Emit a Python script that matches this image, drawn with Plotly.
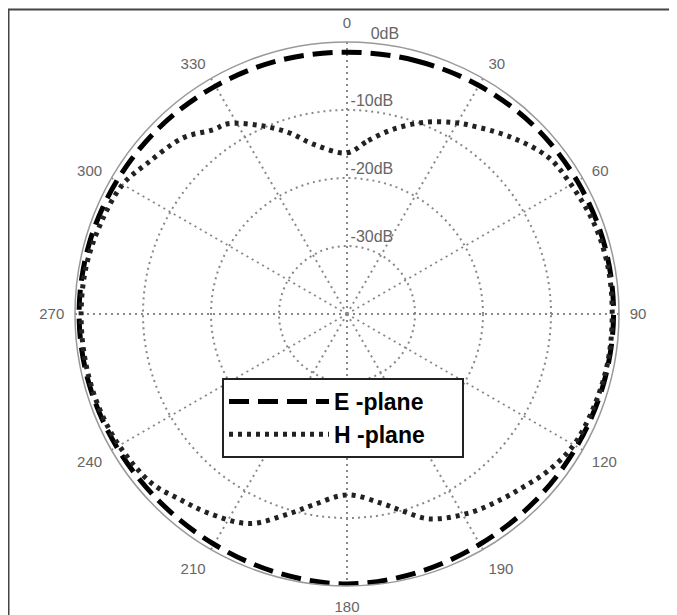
import plotly.graph_objects as go

# ---- data (degrees clockwise from top, dB) ----
e_theta = [0, 15, 30, 45, 60, 75, 90, 105, 120, 135, 150, 165, 180,
           195, 210, 225, 240, 255, 270, 285, 300, 315, 330, 345, 360]
e_db = [-1.5, -1.4, -1.2, -1.0, -0.9, -0.8, -0.8, -0.9, -1.0, -1.0, -0.9, -0.6, -0.3,
        -0.6, -0.9, -1.0, -0.9, -0.7, -0.6, -0.7, -0.9, -1.1, -1.3, -1.4, -1.5]

h_theta = [0, 7, 14, 22, 29, 33, 43, 52, 59, 70, 80, 90, 100, 110, 120, 128, 134,
           140, 148, 158, 164, 170, 180, 190, 196, 205, 215, 222, 229, 240, 250,
           260, 270, 280, 290, 300, 307, 317, 324, 328, 335, 342, 349, 360]
h_db = [-16.3, -14.3, -12.0, -9.6, -7.8, -6.9, -4.5, -2.5, -2.0, -1.3, -1.0, -1.0,
        -1.0, -1.2, -1.5, -2.5, -3.6, -4.5, -5.6, -7.5, -9.8, -11.8, -13.4, -11.5,
        -9.5, -6.0, -4.3, -3.3, -2.0, -1.3, -1.0, -0.9, -0.9, -1.0, -1.4, -1.9,
        -3.2, -4.6, -6.5, -7.0, -9.4, -11.9, -14.6, -16.3]

angle_ticks = [0, 30, 60, 90, 120, 150, 180, 210, 240, 270, 300, 330]
angle_labels = ["0", "30", "60", "90", "120", "190", "180", "210", "240", "270", "300", "330"]
radial_ticks = [0, -10, -20, -30]
radial_labels = ["0dB", "-10dB", "-20dB", "-30dB"]

# styling: angle (deg) of the spoke on which each radial label sits
label_theta = [5, 1, 1.5, 3]

NB = "\u00a0"
fig = go.Figure()
fig.add_trace(go.Scatterpolar(
    r=e_db, theta=e_theta, mode="lines",
    name="<b>E -plane</b>" + NB * 5,
    line=dict(color="black", width=5, dash="20px,9px", shape="spline")))
fig.add_trace(go.Scatterpolar(
    r=h_db, theta=h_theta, mode="lines",
    name="<b>H -plane</b>" + NB * 5,
    line=dict(color="#222", width=5, dash="4px,5px", shape="spline")))
# radial tick labels, placed above-right of each ring
fig.add_trace(go.Scatterpolar(
    r=radial_ticks, theta=label_theta, mode="text",
    text=radial_labels, textposition="top right",
    textfont=dict(size=16, color="#666"),
    showlegend=False, hoverinfo="skip"))

# page has an 8px body margin; all positions below are page pixels minus OFF
OFF = 8
W, H = 677 - OFF, 615 - OFF
cx, cy, R = 347 - OFF, 314 - OFF, 272
fig.update_layout(
    width=W, height=H,
    margin=dict(l=0, r=0, t=0, b=0),
    paper_bgcolor="white", plot_bgcolor="white",
    font=dict(family="Liberation Sans, Arial, sans-serif"),
    polar=dict(
        domain=dict(x=[(cx - R) / W, (cx + R) / W],
                    y=[(H - cy - R) / H, (H - cy + R) / H]),
        bgcolor="white",
        angularaxis=dict(
            rotation=90, direction="clockwise",
            tickmode="array", tickvals=angle_ticks, ticktext=angle_labels,
            ticks="outside", ticklen=7, tickcolor="rgba(0,0,0,0)",
            showline=True, linecolor="#999", linewidth=1.5,
            gridcolor="#888", griddash="2px,4px", gridwidth=1.5,
            tickfont=dict(size=15, color="#666")),
        radialaxis=dict(
            range=[-40, 0], angle=90,
            tickmode="array", tickvals=radial_ticks, showticklabels=False,
            ticks="", showline=False,
            gridcolor="#888", griddash="2px,4px", gridwidth=1.5),
    ),
    showlegend=True,
    legend=dict(
        x=(222 - OFF) / W, y=1 - (378 - OFF) / H, xanchor="left", yanchor="top",
        bgcolor="white", bordercolor="#222", borderwidth=2,
        font=dict(size=23, color="black", family="Liberation Sans, Arial, sans-serif"),
        itemwidth=100, tracegroupgap=0),
    shapes=[dict(type="rect", xref="paper", yref="paper",
                 x0=0.5 / W, x1=(672 - OFF) / W, y0=-0.05, y1=1 - 1.5 / H,
                 line=dict(color="#444", width=2), layer="below")],
)

fig.write_html("out.html")
